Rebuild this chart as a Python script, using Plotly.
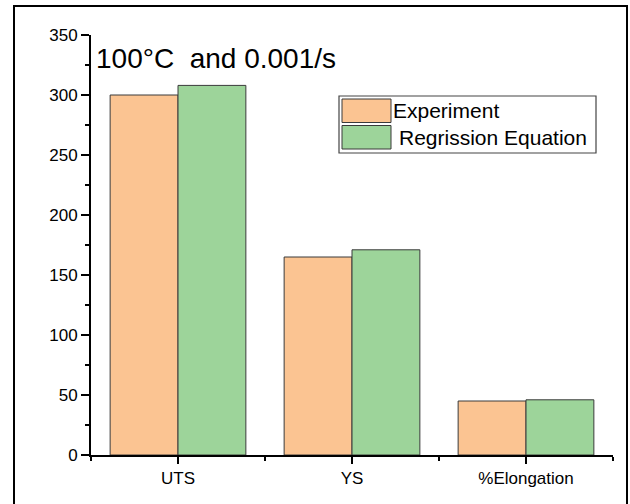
import plotly.graph_objects as go

categories = ["UTS", "YS", "%Elongation"]
experiment = [300, 165, 45]
regression = [308, 171, 46]
series_names = ["Experiment", "Regrission Equation"]
y_ticks = [0, 50, 100, 150, 200, 250, 300, 350]

orange = "#FBC492"
green = "#9DD49A"
edge = "#3a3a3a"
font_family = "Liberation Sans, Arial, sans-serif"

x_pos = list(range(len(categories)))

fig = go.Figure()
fig.add_trace(go.Bar(x=x_pos, y=experiment, name=series_names[0],
                     marker=dict(color=orange, line=dict(color=edge, width=1)),
                     showlegend=False))
fig.add_trace(go.Bar(x=x_pos, y=regression, name=series_names[1],
                     marker=dict(color=green, line=dict(color=edge, width=1)),
                     showlegend=False))

W, H = 630, 504
ml, mr, mt, mb = 91, 17, 35, 49
pw, ph = W - ml - mr, H - mt - mb

def px(x):
    return (x - ml) / pw

def py(y):
    return (H - mb - y) / ph

shapes = [
    # outer frame
    dict(type="rect", xref="paper", yref="paper",
         x0=px(14), x1=px(627), y0=py(520), y1=py(6),
         line=dict(color="black", width=2), fillcolor="rgba(0,0,0,0)", layer="below"),
    # legend box
    dict(type="rect", xref="paper", yref="paper",
         x0=px(339), x1=px(596), y0=py(153), y1=py(96),
         line=dict(color="#444", width=1.2), fillcolor="white"),
    dict(type="rect", xref="paper", yref="paper",
         x0=px(342), x1=px(391), y0=py(122.5), y1=py(99),
         line=dict(color=edge, width=1), fillcolor=orange),
    dict(type="rect", xref="paper", yref="paper",
         x0=px(342), x1=px(391), y0=py(149), y1=py(125.5),
         line=dict(color=edge, width=1), fillcolor=green),
]

annotations = [
    dict(text="100°C  and 0.001/s", xref="paper", yref="paper",
         x=px(94), y=py(58), xanchor="left", yanchor="middle", showarrow=False,
         font=dict(size=28, color="black", family=font_family)),
    dict(text=series_names[0], xref="paper", yref="paper",
         x=px(391), y=py(110), xanchor="left", yanchor="middle", showarrow=False,
         font=dict(size=21, color="black", family=font_family)),
    dict(text=series_names[1], xref="paper", yref="paper",
         x=px(397), y=py(137), xanchor="left", yanchor="middle", showarrow=False,
         font=dict(size=21, color="black", family=font_family)),
]

fig.update_layout(
    width=W, height=H,
    margin=dict(l=ml, r=mr, t=mt, b=mb),
    paper_bgcolor="white", plot_bgcolor="white",
    barmode="group", bargap=0.22, bargroupgap=0,
    font=dict(family=font_family, size=17, color="black"),
    shapes=shapes, annotations=annotations,
    showlegend=False,
)
fig.update_xaxes(
    range=[-0.5, 2.5], tickmode="array", tickvals=x_pos, ticktext=categories,
    showline=True, linecolor="black", linewidth=2, showgrid=False, zeroline=False,
    ticks="outside", ticklen=7, tickwidth=2, tickcolor="black",
    minor=dict(tickmode="array", tickvals=[-0.5, 0.5, 1.5, 2.5], ticks="outside",
               ticklen=4, tickwidth=2, tickcolor="black", showgrid=False),
    tickfont=dict(size=17),
)
fig.update_yaxes(
    range=[0, 350], tickmode="array", tickvals=y_ticks,
    showline=True, linecolor="black", linewidth=2, showgrid=False, zeroline=False,
    ticks="outside", ticklen=8, tickwidth=2, tickcolor="black",
    minor=dict(dtick=25, ticks="outside", ticklen=4, tickwidth=2, tickcolor="black", showgrid=False),
    tickfont=dict(size=17),
)

fig.write_html("out.html", config={"displayModeBar": False},
               post_script="document.body.style.margin='0px';document.body.style.overflow='hidden';")
